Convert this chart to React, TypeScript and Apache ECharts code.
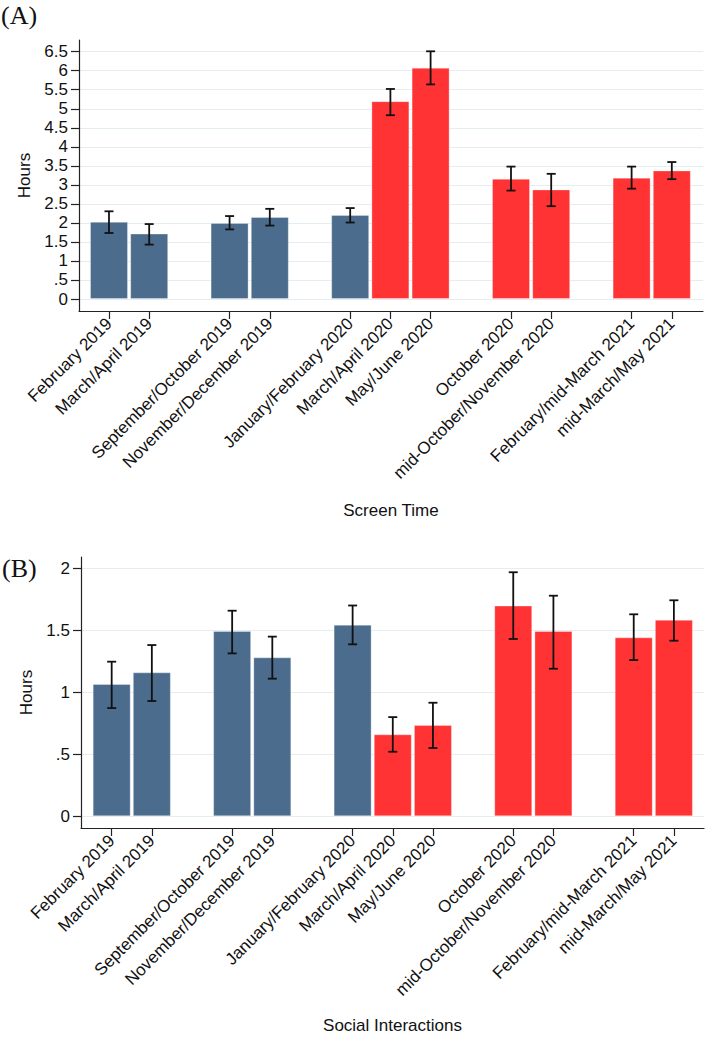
import React, { useEffect, useRef } from "react";
import * as echarts from "echarts";

// ---- Data ----
const categories = [
  "February 2019",
  "March/April 2019",
  "September/October 2019",
  "November/December 2019",
  "January/February 2020",
  "March/April 2020",
  "May/June 2020",
  "October 2020",
  "mid-October/November 2020",
  "February/mid-March 2021",
  "mid-March/May 2021",
];
// survey wave group (bars of one group sit side by side; groups are separated by a gap)
const waveGroup = [1, 1, 2, 2, 3, 3, 3, 4, 4, 5, 5];
// pre-pandemic vs pandemic period
const period = ["pre", "pre", "pre", "pre", "pre", "covid", "covid", "covid", "covid", "covid", "covid"];

const screenTime = [2.03, 1.72, 2.0, 2.155, 2.21, 5.2, 6.08, 3.16, 2.88, 3.19, 3.38];
const screenLow = [1.735, 1.43, 1.83, 1.93, 2.01, 4.83, 5.64, 2.85, 2.44, 2.9, 3.15];
const screenHigh = [2.305, 1.97, 2.18, 2.37, 2.39, 5.52, 6.51, 3.48, 3.29, 3.48, 3.6];

const socialTime = [1.067, 1.161, 1.494, 1.282, 1.545, 0.661, 0.736, 1.699, 1.494, 1.443, 1.585];
const socialLow = [0.873, 0.93, 1.314, 1.11, 1.387, 0.521, 0.551, 1.43, 1.19, 1.26, 1.416];
const socialHigh = [1.247, 1.381, 1.658, 1.449, 1.7, 0.8, 0.916, 1.968, 1.779, 1.629, 1.742];

const screenTicks = [0, 0.5, 1, 1.5, 2, 2.5, 3, 3.5, 4, 4.5, 5, 5.5, 6, 6.5];
const socialTicks = [0, 0.5, 1, 1.5, 2];

// ---- Styling ----
const BLUE = "#4b6c8c";
const RED = "#ff3333";
const FONT = "Liberation Sans, Arial, Helvetica, sans-serif";
const AXIS_COLOR = "#222";
const GRID_COLOR = "#e4edf1";

const xPos = categories.map((_, i) => i + waveGroup[i] - 1);
const labelAt = (v: number) => {
  const idx = xPos.findIndex((p) => Math.abs(p - v) < 1e-6);
  return idx >= 0 ? categories[idx] : "";
};
const fmtY = (v: number) => (v === 0 ? "0" : String(v).replace(/^0\./, "."));

function errRender(params: any, api: any) {
  const x = api.value(0);
  const lo = api.value(1);
  const hi = api.value(2);
  const pHi = api.coord([x, hi]);
  const pLo = api.coord([x, lo]);
  const cw = 4.5;
  const style = { stroke: "#111", lineWidth: 1.8 };
  return {
    type: "group",
    children: [
      { type: "line", shape: { x1: pHi[0], y1: pHi[1], x2: pLo[0], y2: pLo[1] }, style },
      { type: "line", shape: { x1: pHi[0] - cw, y1: pHi[1], x2: pHi[0] + cw, y2: pHi[1] }, style },
      { type: "line", shape: { x1: pLo[0] - cw, y1: pLo[1], x2: pLo[0] + cw, y2: pLo[1] }, style },
    ],
  };
}

function xAxisCfg(gridIndex: number, min: number, max: number, name: string, nameGap: number) {
  return {
    type: "value",
    gridIndex,
    min,
    max,
    name,
    nameLocation: "middle",
    nameGap,
    nameTextStyle: { fontFamily: FONT, fontSize: 17, color: "#111" },
    axisLine: { show: true, onZero: false, lineStyle: { color: AXIS_COLOR, width: 1.2 } },
    axisTick: { show: true, length: 8, customValues: xPos, lineStyle: { color: AXIS_COLOR, width: 1.2 } },
    axisLabel: {
      customValues: xPos,
      rotate: 45,
      margin: 10,
      fontFamily: FONT,
      fontSize: 17,
      color: "#111",
      formatter: (v: number) => labelAt(v),
    },
    splitLine: { show: false },
  };
}

function yAxisCfg(gridIndex: number, min: number, max: number, ticks: number[]) {
  return {
    type: "value",
    gridIndex,
    min,
    max,
    name: "Hours",
    nameLocation: "middle",
    nameGap: 44,
    nameRotate: 90,
    nameTextStyle: { fontFamily: FONT, fontSize: 17, color: "#111" },
    axisLine: { show: true, onZero: false, lineStyle: { color: AXIS_COLOR, width: 1.2 } },
    axisTick: { show: true, length: 8, customValues: ticks, lineStyle: { color: AXIS_COLOR, width: 1.2 } },
    axisLabel: {
      customValues: ticks,
      margin: 11,
      fontFamily: FONT,
      fontSize: 17,
      color: "#111",
      formatter: (v: number) => fmtY(v),
    },
    splitLine: { show: true, lineStyle: { color: GRID_COLOR, width: 1.2 } },
  };
}

function barSeries(idx: number, values: number[]) {
  return {
    type: "bar",
    xAxisIndex: idx,
    yAxisIndex: idx,
    barWidth: 38,
    data: values.map((v, i) => ({
      value: [xPos[i], v],
      itemStyle: {
        color: period[i] === "pre" ? BLUE : RED,
        borderColor: "rgba(255,255,255,0.3)",
        borderWidth: 1,
      },
    })),
    z: 2,
  };
}

function errSeries(idx: number, lo: number[], hi: number[]) {
  return {
    type: "custom",
    xAxisIndex: idx,
    yAxisIndex: idx,
    renderItem: errRender,
    encode: { x: 0, y: [1, 2] },
    data: lo.map((l, i) => [xPos[i], l, hi[i]]),
    z: 5,
  };
}

export default function App() {
  const ref = useRef<HTMLDivElement>(null);
  useEffect(() => {
    if (!ref.current) return;
    const chart = echarts.init(ref.current, null, { renderer: "svg" });
    chart.setOption({
      animation: false,
      backgroundColor: "#fff",
      grid: [
        { left: 79, top: 40, width: 624, height: 271 },
        { left: 81, top: 557, width: 623, height: 271 },
      ],
      xAxis: [
        xAxisCfg(0, -0.746, 14.776, "Screen Time", 191),
        xAxisCfg(1, -0.764, 14.75, "Social Interactions", 189),
      ],
      yAxis: [yAxisCfg(0, -0.315, 6.807, screenTicks), yAxisCfg(1, -0.094, 2.091, socialTicks)],
      series: [
        barSeries(0, screenTime),
        errSeries(0, screenLow, screenHigh),
        barSeries(1, socialTime),
        errSeries(1, socialLow, socialHigh),
      ],
      graphic: [
        {
          type: "text",
          left: 1,
          top: 2,
          style: { text: "(A)", font: "26px 'Liberation Serif', 'DejaVu Serif', serif", fill: "#111" },
        },
        {
          type: "text",
          left: 2,
          top: 555,
          style: { text: "(B)", font: "26px 'Liberation Serif', 'DejaVu Serif', serif", fill: "#111" },
        },
      ],
    });
    return () => chart.dispose();
  }, []);
  return (
    <div
      ref={ref}
      style={{ position: "absolute", left: 0, top: 0, width: 707, height: 1039, background: "#fff" }}
    />
  );
}
